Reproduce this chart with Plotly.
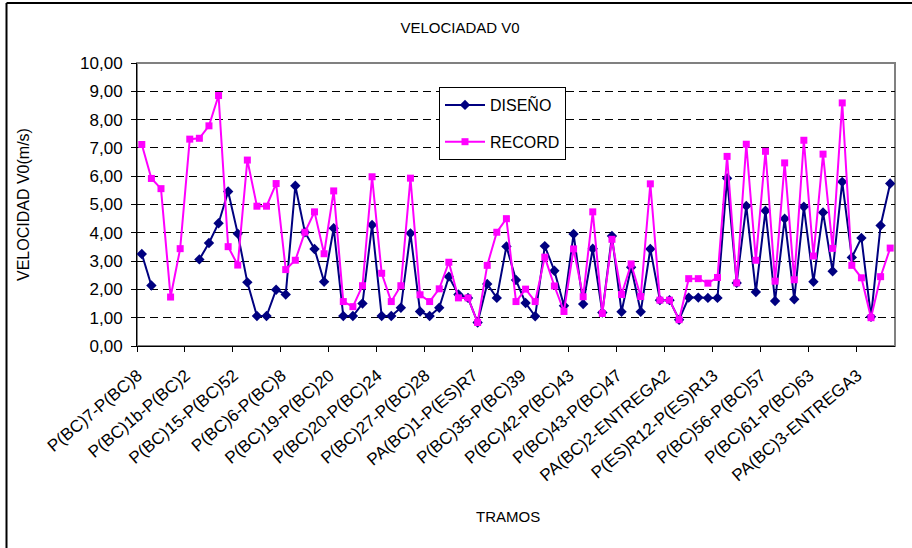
import plotly.graph_objects as go

# ---- data ----
tick_labels = [
    "P(BC)7-P(BC)8", "P(BC)1b-P(BC)2", "P(BC)15-P(BC)52", "P(BC)6-P(BC)8",
    "P(BC)19-P(BC)20", "P(BC)20-P(BC)24", "P(BC)27-P(BC)28", "PA(BC)1-P(ES)R7",
    "P(BC)35-P(BC)39", "P(BC)42-P(BC)43", "P(BC)43-P(BC)47", "PA(BC)2-ENTREGA2",
    "P(ES)R12-P(ES)R13", "P(BC)56-P(BC)57", "P(BC)61-P(BC)63", "PA(BC)3-ENTREGA3",
]
tick_positions = [0, 5, 10, 15, 20, 25, 30, 35, 40, 45, 50, 55, 60, 65, 70, 75]

diseno = [
    3.25, 2.14, None, None, None, None, 3.06, 3.64, 4.34, 5.46,
    3.97, 2.25, 1.06, 1.06, 1.99, 1.82, 5.66, 4.02, 3.43, 2.27,
    4.16, 1.06, 1.06, 1.50, 4.28, 1.06, 1.06, 1.35, 3.98, 1.22,
    1.06, 1.35, 2.45, 1.82, 1.70, 0.83, 2.19, 1.70, 3.52, 2.33,
    1.52, 1.05, 3.53, 2.66, 1.42, 3.96, 1.48, 3.44, 1.18, 3.89,
    1.21, 2.78, 1.21, 3.43, 1.62, 1.62, 0.93, 1.71, 1.71, 1.70,
    1.70, 5.93, 2.23, 4.95, 1.91, 4.78, 1.59, 4.50, 1.65, 4.92,
    2.27, 4.72, 2.64, 5.80, 3.13, 3.82, 1.03, 4.26, 5.74,
]
record = [
    7.12, 5.92, 5.56, 1.73, 3.44, 7.31, 7.34, 7.78, 8.85, 3.51,
    2.86, 6.57, 4.94, 4.94, 5.74, 2.70, 3.03, 4.02, 4.74, 3.26,
    5.48, 1.57, 1.39, 2.13, 5.98, 2.57, 1.57, 2.13, 5.93, 1.81,
    1.57, 2.02, 2.96, 1.70, 1.70, 0.83, 2.85, 4.02, 4.50, 1.57,
    2.01, 1.57, 3.14, 2.12, 1.22, 3.43, 1.74, 4.74, 1.15, 3.77,
    1.82, 2.90, 1.75, 5.73, 1.62, 1.62, 0.93, 2.38, 2.38, 2.22,
    2.42, 6.70, 2.23, 7.13, 3.03, 6.88, 2.29, 6.47, 2.34, 7.27,
    3.18, 6.78, 3.45, 8.59, 2.85, 2.41, 1.00, 2.45, 3.46,
]
x_idx = list(range(len(record)))

FONT = "Liberation Sans, Arial, sans-serif"

fig = go.Figure()
fig.add_trace(go.Scatter(
    x=x_idx, y=diseno, name="DISEÑO", mode="lines+markers",
    line=dict(color="#000080", width=2),
    marker=dict(symbol="diamond", size=8, color="#000080"),
    connectgaps=False, legendgroup="a",
))
fig.add_trace(go.Scatter(
    x=x_idx, y=record, name="RECORD", mode="lines+markers",
    line=dict(color="#FF00FF", width=2),
    marker=dict(symbol="square", size=7, color="#FF00FF"),
    legendgroup="b",
))

L, R, T, B = 137, 17, 63, 202
W, H = 912, 548
pw, ph = W - L - R, H - T - B

def px_x(x):
    return (x - L) / pw

def px_y(y):
    return (H - B - y) / ph

fig.update_layout(
    width=W, height=H,
    margin=dict(l=L, r=R, t=T, b=B),
    paper_bgcolor="white", plot_bgcolor="white",
    separators=",.",
    font=dict(family=FONT, size=14, color="black"),
    title=dict(text="VELOCIADAD V0", x=460 / W, xanchor="center",
               y=1 - 28 / H, yanchor="middle", yref="container",
               font=dict(size=15)),
    showlegend=True,
    legend=dict(x=px_x(439), y=px_y(87), xanchor="left", yanchor="top",
                bordercolor="black", borderwidth=1, bgcolor="white",
                tracegroupgap=13, font=dict(size=16),
                itemwidth=40),
    xaxis=dict(
        range=[-0.5, 78.5], tickmode="array", tickvals=tick_positions,
        ticktext=tick_labels, tickangle=-40, ticks="", showgrid=False,
        zeroline=False, showline=True, linecolor="black", linewidth=1,
        tickfont=dict(size=17), ticklabelstandoff=12, ticklabelshift=-4,
        minor=dict(ticks="outside", tick0=-0.5, dtick=5, ticklen=5,
                   tickcolor="black", showgrid=False),
    ),
    yaxis=dict(
        range=[0, 10], dtick=1, tickformat=".2f", ticks="outside", ticklen=5,
        tickcolor="black", showgrid=True, gridcolor="black",
        griddash="8px,5px", gridwidth=1, zeroline=False, showline=True,
        linecolor="black", linewidth=1, tickfont=dict(size=17),
        ticklabelstandoff=5,
    ),
    shapes=[
        dict(type="rect", xref="paper", yref="paper", x0=0, y0=0, x1=1, y1=1,
             line=dict(color="#808080", width=2), layer="below"),
        dict(type="line", xref="paper", yref="paper",
             x0=px_x(6.5), x1=px_x(6.5), y0=px_y(3), y1=px_y(560),
             line=dict(color="black", width=2)),
        dict(type="line", xref="paper", yref="paper",
             x0=px_x(6.5), x1=px_x(920), y0=px_y(3), y1=px_y(3),
             line=dict(color="black", width=2)),
    ],
    annotations=[
        dict(text="TRAMOS", xref="paper", yref="paper", x=px_x(508), y=px_y(516),
             showarrow=False, xanchor="center", yanchor="middle",
             font=dict(size=15)),
        dict(text="VELOCIDAD V0(m/s)", xref="paper", yref="paper",
             x=px_x(23), y=px_y(204), textangle=-90, showarrow=False,
             xanchor="center", yanchor="middle", font=dict(size=16)),
    ],
)

fig.write_html("out.html")
